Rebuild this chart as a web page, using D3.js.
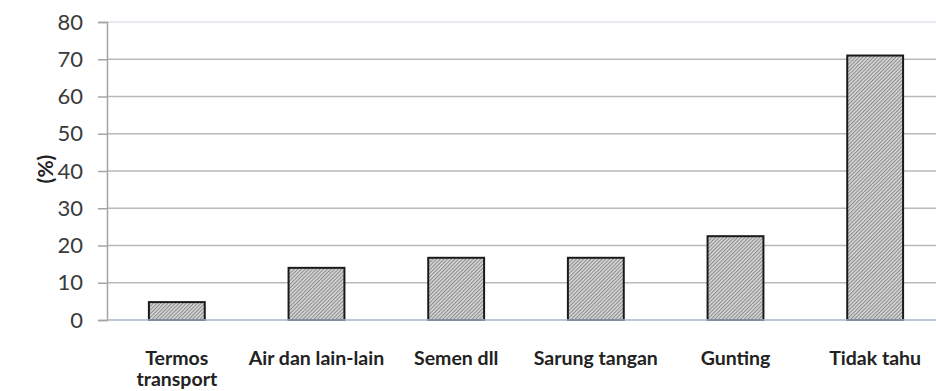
<!DOCTYPE html>
<html>
<head>
<meta charset="utf-8">
<script src="https://cdn.jsdelivr.net/npm/d3@7"></script>
<style>
  html, body { margin: 0; padding: 0; background: #fff; }
  svg { display: block; }
</style>
</head>
<body>
<svg id="chart" width="936" height="391"></svg>
<script>
// Responses: what is used (%)
const categories = [["Termos", "transport"], ["Air dan lain-lain"], ["Semen dll"], ["Sarung tangan"], ["Gunting"], ["Tidak tahu"]];
const values = [4.8, 14, 16.7, 16.7, 22.5, 71];
const yTicks = [0, 10, 20, 30, 40, 50, 60, 70, 80];
const yLabel = "(%)";

const svg = d3.select("#chart");
const W = 936, H = 391;
const margin = { left: 107, right: -9, top: 22, bottom: 71 };

const x = d3.scaleBand()
  .domain(categories.map((d, i) => i))
  .range([margin.left, W - margin.right])
  .paddingInner(0.6)
  .paddingOuter(0.3);

const y = d3.scaleLinear()
  .domain([0, 80])
  .range([H - margin.bottom, margin.top]);

// fine hatched fill for the bars
const defs = svg.append("defs");
const pat = defs.append("pattern")
  .attr("id", "hatch")
  .attr("patternUnits", "userSpaceOnUse")
  .attr("width", 2.6).attr("height", 2.6)
  .attr("patternTransform", "rotate(45)");
pat.append("rect").attr("width", 2.6).attr("height", 2.6).attr("fill", "#d6d6d6");
pat.append("rect").attr("width", 1).attr("height", 2.6).attr("fill", "#8a8a8a");

// horizontal gridlines
svg.append("g")
  .selectAll("line")
  .data(yTicks.filter(t => t > 0))
  .join("line")
  .attr("x1", margin.left).attr("x2", W)
  .attr("y1", d => y(d)).attr("y2", d => y(d))
  .attr("stroke", d => d === 80 ? "#dfe3ea" : "#b9b9b9")
  .attr("stroke-width", 1.5);

// y axis
const yAxis = svg.append("g")
  .attr("transform", `translate(${margin.left},0)`)
  .call(d3.axisLeft(y).tickValues(yTicks).tickSize(9).tickPadding(15));
yAxis.select(".domain").attr("stroke", "#a4a4a4").attr("stroke-width", 1.5);
yAxis.selectAll(".tick line").attr("stroke", "#a4a4a4").attr("stroke-width", 1.5);
yAxis.selectAll(".tick text")
  .attr("fill", "#3a3a3a")
  .style("font-family", "Lato, 'Open Sans', sans-serif")
  .style("font-size", "22px");

// bars
svg.append("g")
  .selectAll("rect")
  .data(values)
  .join("rect")
  .attr("x", (d, i) => x(i))
  .attr("width", x.bandwidth())
  .attr("y", d => y(d))
  .attr("height", d => y(0) - y(d))
  .attr("fill", "url(#hatch)")
  .attr("stroke", "#1a1a1a")
  .attr("stroke-width", 2);

// x axis baseline
svg.append("line")
  .attr("x1", margin.left).attr("x2", W)
  .attr("y1", y(0)).attr("y2", y(0))
  .attr("stroke", "#a8b4c8")
  .attr("stroke-width", 1.5);

// category labels
const labels = svg.append("g")
  .selectAll("text")
  .data(categories)
  .join("text")
  .attr("x", (d, i) => x(i) + x.bandwidth() / 2)
  .attr("y", 365)
  .attr("text-anchor", "middle")
  .attr("fill", "#222")
  .style("font-family", "Lato, 'Open Sans', sans-serif")
  .style("font-weight", "bold")
  .style("font-size", "19.5px");
labels.selectAll("tspan")
  .data(d => d)
  .join("tspan")
  .attr("x", function () { return d3.select(this.parentNode).attr("x"); })
  .attr("dy", (d, i) => i === 0 ? 0 : 21)
  .text(d => d);

// y axis title
svg.append("text")
  .attr("transform", `translate(53,${(y(0) + y(80)) / 2 - 2}) rotate(-90)`)
  .attr("text-anchor", "middle")
  .attr("fill", "#222")
  .style("font-family", "Lato, 'Open Sans', sans-serif")
  .style("font-weight", "bold")
  .style("font-size", "21px")
  .text(yLabel);
</script>
</body>
</html>
